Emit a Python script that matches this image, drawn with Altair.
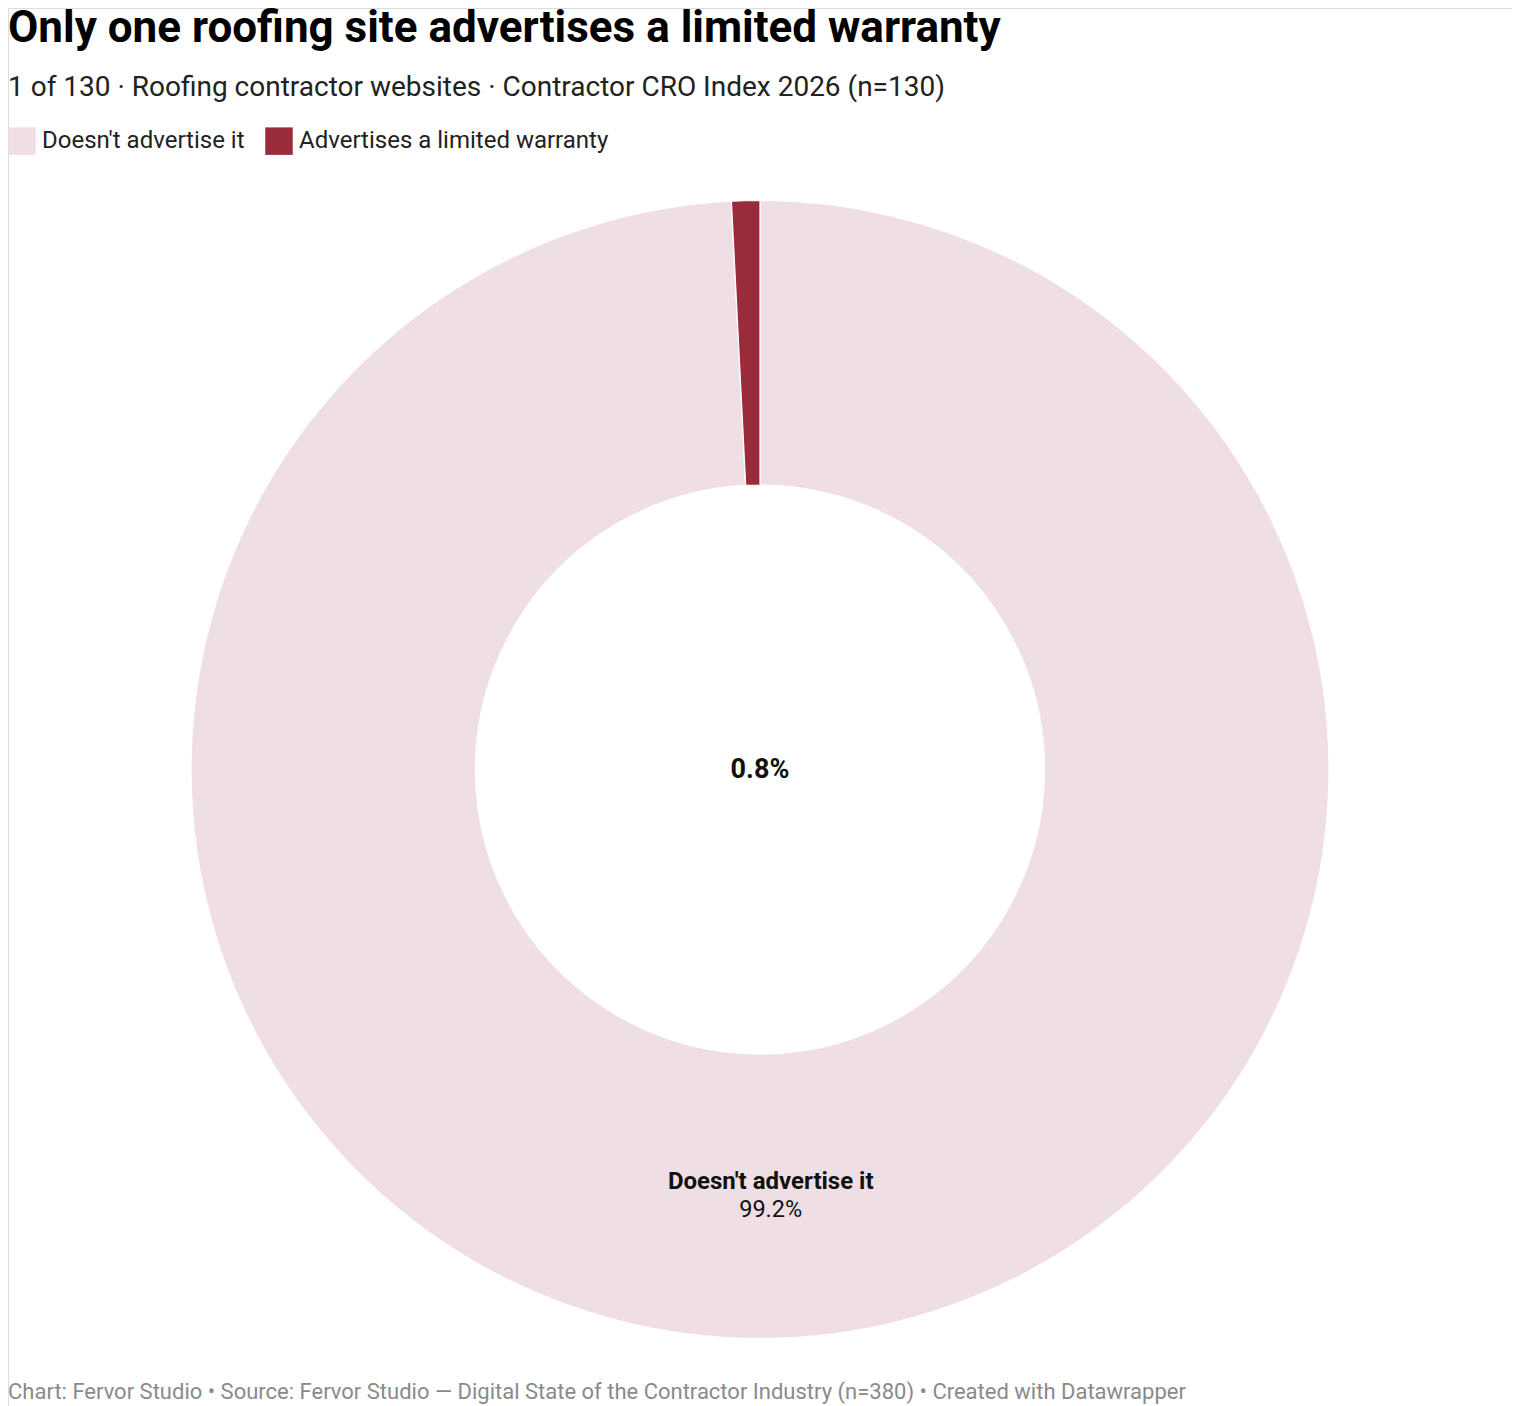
import altair as alt
import pandas as pd

# ---- data ----
categories = ["Doesn't advertise it", "Advertises a limited warranty"]
shares = [99.2, 0.8]
order_idx = [0, 1]
slice_labels = ["Doesn't advertise it", ""]
slice_values = ["99.2%", ""]
colors = ["#efdfe4", "#992b3a"]

title_text = "Only one roofing site advertises a limited warranty"
subtitle_text = "1 of 130 · Roofing contractor websites · Contractor CRO Index 2026 (n=130)"
center_label = "0.8%"
footer_text = ("Chart: Fervor Studio • Source: Fervor Studio — Digital State of the "
               "Contractor Industry (n=380) • Created with Datawrapper")

df = pd.DataFrame({
    "category": categories,
    "share": shares,
    "idx": order_idx,
    "lab": slice_labels,
    "val": slice_values,
})

FONT = "Roboto"
W, H = 1504, 1398
CX, CY = 752, 761.5
R_OUT, R_IN = 569, 284.5
R_MID = (R_OUT + R_IN) / 2

base = alt.Chart(df)

theta = alt.Theta("share:Q", stack=True)

donut = base.mark_arc(
    outerRadius=R_OUT, innerRadius=R_IN, stroke="white", strokeWidth=1.2
).encode(
    theta=theta,
    order=alt.Order("idx:Q", sort="ascending"),
    color=alt.Color(
        "category:N",
        scale=alt.Scale(domain=categories, range=colors),
        sort=categories,
        legend=alt.Legend(
            title=None,
            orient="none",
            legendX=0,
            legendY=119,
            direction="horizontal",
            symbolType="square",
            symbolSize=756,
            symbolStrokeWidth=0,
            symbolOpacity=1,
            labelFont=FONT,
            labelFontSize=24,
            labelColor="#222222",
            labelLimit=0,
            labelOffset=6,
            columnPadding=20,
            padding=0,
        ),
    ),
    x=alt.value(CX),
    y=alt.value(CY),
)

lab_bold = base.mark_text(
    radius=R_MID, font=FONT, fontSize=24, fontWeight="bold", color="#111111",
    baseline="middle", dy=-14
).encode(
    theta=theta,
    order=alt.Order("idx:Q", sort="ascending"),
    text="lab:N",
    x=alt.value(CX),
    y=alt.value(CY),
)

lab_val = base.mark_text(
    radius=R_MID, font=FONT, fontSize=23.5, color="#111111",
    baseline="middle", dy=14
).encode(
    theta=theta,
    order=alt.Order("idx:Q", sort="ascending"),
    text="val:N",
    x=alt.value(CX),
    y=alt.value(CY),
)

texts_df = pd.DataFrame({"t": [center_label]})
center = alt.Chart(texts_df).mark_text(
    font=FONT, fontSize=27, fontWeight="bold", color="#111111", baseline="middle", align="center"
).encode(text="t:N", x=alt.value(CX), y=alt.value(CY))

title = alt.Chart(pd.DataFrame({"t": [title_text]})).mark_text(
    font=FONT, fontSize=44, fontWeight="bold", color="#000000", align="left", baseline="alphabetic"
).encode(text="t:N", x=alt.value(0), y=alt.value(34))

subtitle = alt.Chart(pd.DataFrame({"t": [subtitle_text]})).mark_text(
    font=FONT, fontSize=28, color="#222222", align="left", baseline="alphabetic"
).encode(text="t:N", x=alt.value(0), y=alt.value(88))

footer = alt.Chart(pd.DataFrame({"t": [footer_text]})).mark_text(
    font=FONT, fontSize=22, color="#8a8a8a", align="left", baseline="middle"
).encode(text="t:N", x=alt.value(0), y=alt.value(1384))

chart = alt.layer(donut, lab_bold, lab_val, center, title, subtitle, footer).properties(
    width=W, height=H, autosize=alt.AutoSizeParams(type="none"), padding=0
).configure_view(stroke="transparent", strokeWidth=0).configure(background="white")

chart.save("out.html", embed_options={"renderer": "svg", "actions": False})
